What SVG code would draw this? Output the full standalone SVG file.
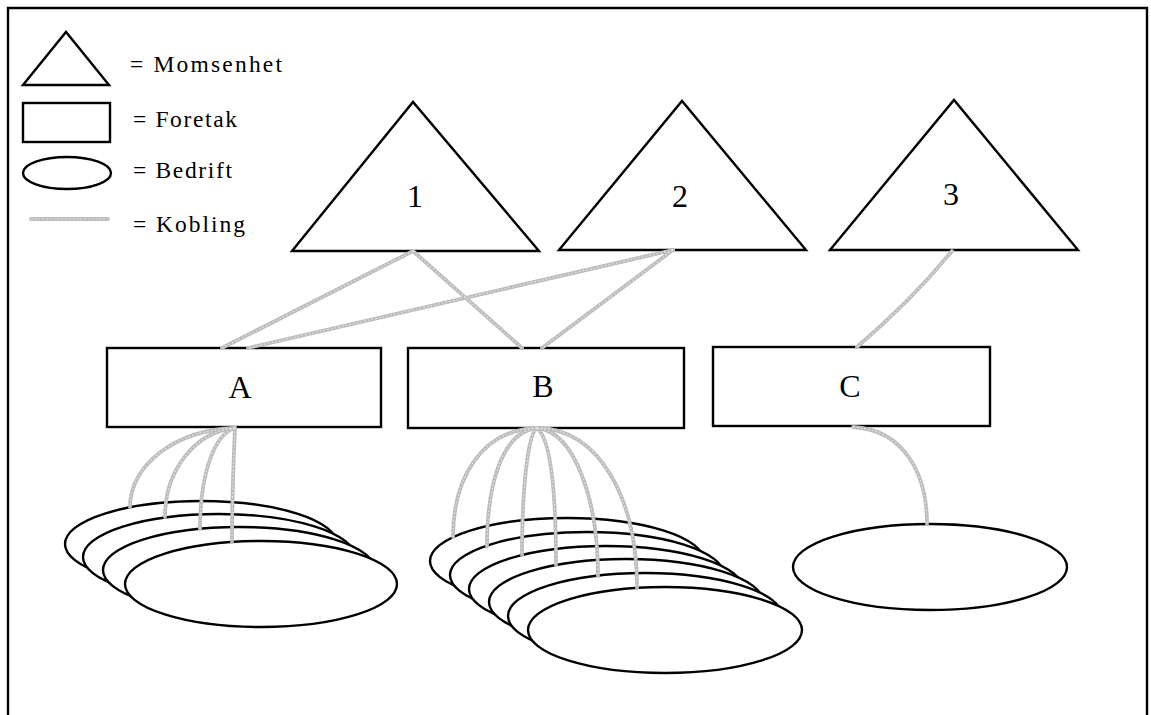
<svg xmlns="http://www.w3.org/2000/svg" xmlns:xlink="http://www.w3.org/1999/xlink" width="1151" height="715" viewBox="0 0 1151 715">
<style>
.shape{fill:#fff;stroke:#000;stroke-width:2.4;stroke-linejoin:miter}
.link{fill:none;stroke:#bcbcbc;stroke-width:3.8;stroke-linecap:round}
.tex{fill:none;stroke:#e8e8e8;stroke-width:1.1;stroke-dasharray:1.6 2.2}
.leg{font-family:"Liberation Serif","Times New Roman",serif;font-size:23.5px;fill:#000}
.lbl{font-family:"Liberation Serif","Times New Roman",serif;font-size:32px;fill:#000;text-anchor:middle}
</style>
<rect width="1151" height="715" fill="#fff"/>
<path d="M8,715 V8 H1147 V715" fill="none" stroke="#000" stroke-width="2.4"/>

<g id="legend">
  <polygon class="shape" points="23,85 66,32 109,85"/>
  <text class="leg" x="130" y="72" textLength="152" lengthAdjust="spacing">= Momsenhet</text>
  <rect class="shape" x="23" y="103" width="87" height="39"/>
  <text class="leg" x="133" y="127" textLength="104" lengthAdjust="spacing">= Foretak</text>
  <ellipse class="shape" cx="67" cy="173" rx="44" ry="16"/>
  <text class="leg" x="133" y="178" textLength="99" lengthAdjust="spacing">= Bedrift</text>
  <line class="link" x1="31" y1="219" x2="108" y2="219"/>
  <line class="tex" x1="31" y1="219" x2="108" y2="219"/>
  <text class="leg" x="133" y="232" textLength="112" lengthAdjust="spacing">= Kobling</text>
</g>

<g id="momsenhet-1">
  <polygon class="shape" points="292,251 413,102 539,251"/>
  <text class="lbl" x="415" y="207">1</text>
</g>
<g id="momsenhet-2">
  <polygon class="shape" points="559,250 682,101 806,250"/>
  <text class="lbl" x="680" y="207">2</text>
</g>
<g id="momsenhet-3">
  <polygon class="shape" points="830,250 954,100 1078,250"/>
  <text class="lbl" x="951" y="205">3</text>
</g>

<g id="foretak-A">
  <rect class="shape" x="107" y="348" width="274" height="79"/>
  <text class="lbl" x="240" y="398">A</text>
</g>
<g id="foretak-B">
  <rect class="shape" x="408" y="348" width="276" height="80"/>
  <text class="lbl" x="543" y="397">B</text>
</g>
<g id="foretak-C">
  <rect class="shape" x="713" y="347" width="277" height="79"/>
  <text class="lbl" x="850" y="397">C</text>
</g>

<g id="bedrift-A1"><ellipse class="shape" cx="201" cy="544" rx="136" ry="43"/></g>
<g id="bedrift-A2"><ellipse class="shape" cx="219" cy="557" rx="136" ry="43"/></g>
<g id="bedrift-A3"><ellipse class="shape" cx="239" cy="570" rx="136" ry="43"/></g>
<g id="bedrift-A4"><ellipse class="shape" cx="261" cy="584" rx="136" ry="43"/></g>

<g id="bedrift-B1"><ellipse class="shape" cx="567" cy="561" rx="137" ry="43"/></g>
<g id="bedrift-B2"><ellipse class="shape" cx="587" cy="575" rx="137" ry="43"/></g>
<g id="bedrift-B3"><ellipse class="shape" cx="606" cy="589" rx="137" ry="43"/></g>
<g id="bedrift-B4"><ellipse class="shape" cx="626" cy="602" rx="137" ry="43"/></g>
<g id="bedrift-B5"><ellipse class="shape" cx="645" cy="616" rx="137" ry="43"/></g>
<g id="bedrift-B6"><ellipse class="shape" cx="665" cy="630" rx="137" ry="43"/></g>

<g id="bedrift-C1"><ellipse class="shape" cx="930" cy="567" rx="137" ry="43"/></g>

<defs>
  <path id="c1" d="M413,251 L222,348"/>
  <path id="c2" d="M413,251 L522,348"/>
  <path id="c3" d="M673,250 L248,348"/>
  <path id="c4" d="M673,250 L542,348"/>
  <path id="c5" d="M952,251 Q912,300 857,347"/>
  <path id="a1" d="M235,428 C175,430 130,465 130,507"/>
  <path id="a2" d="M235,428 C195,432 165,470 165,517"/>
  <path id="a3" d="M235,428 C212,435 200,480 200,529"/>
  <path id="a4" d="M235,428 C234,450 232,500 232,542"/>
  <path id="b1" d="M537,428 C480,430 453,480 453,537"/>
  <path id="b2" d="M537,428 C500,432 487,490 487,546"/>
  <path id="b3" d="M537,428 C527,435 522,495 522,555"/>
  <path id="b4" d="M537,428 C552,440 556,500 556,565"/>
  <path id="b5" d="M537,428 C575,432 598,500 598,576"/>
  <path id="b6" d="M537,428 C600,428 637,500 637,588"/>
  <path id="k1" d="M853,427 C905,430 927,475 927,524"/>
</defs>

<g id="connectors">
  <g class="link">
    <use href="#c1"/><use href="#c2"/><use href="#c3"/><use href="#c4"/><use href="#c5"/>
    <use href="#a1"/><use href="#a2"/><use href="#a3"/><use href="#a4"/>
    <use href="#b1"/><use href="#b2"/><use href="#b3"/><use href="#b4"/><use href="#b5"/><use href="#b6"/>
    <use href="#k1"/>
  </g>
  <g class="tex">
    <use href="#c1"/><use href="#c2"/><use href="#c3"/><use href="#c4"/><use href="#c5"/>
    <use href="#a1"/><use href="#a2"/><use href="#a3"/><use href="#a4"/>
    <use href="#b1"/><use href="#b2"/><use href="#b3"/><use href="#b4"/><use href="#b5"/><use href="#b6"/>
    <use href="#k1"/>
  </g>
</g>
</svg>
